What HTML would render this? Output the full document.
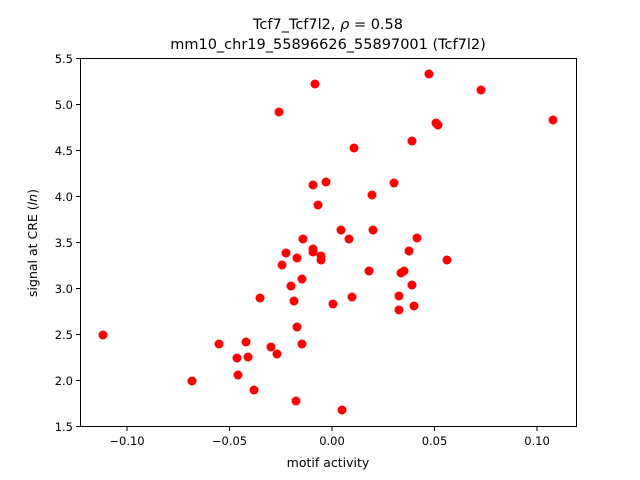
<!DOCTYPE html>
<html><head><meta charset="utf-8"><style>body{margin:0;background:#fff}svg{display:block}text{font-family:"DejaVu Sans","Liberation Sans",sans-serif;fill:#000}</style></head><body>
<svg width="640" height="480" viewBox="0 0 640 480" xmlns="http://www.w3.org/2000/svg">
<rect width="640" height="480" fill="#fff"/>
<g fill="#ff0000">
<circle cx="103" cy="335" r="4.5"/><circle cx="192" cy="381" r="4.5"/><circle cx="219" cy="344" r="4.5"/><circle cx="237" cy="358" r="4.5"/><circle cx="238" cy="375" r="4.5"/><circle cx="246" cy="342" r="4.5"/><circle cx="248" cy="357" r="4.5"/><circle cx="254" cy="390" r="4.5"/><circle cx="260" cy="298" r="4.5"/><circle cx="271" cy="347" r="4.5"/><circle cx="277" cy="354" r="4.5"/><circle cx="279" cy="112" r="4.5"/><circle cx="282" cy="265" r="4.5"/><circle cx="286" cy="253" r="4.5"/><circle cx="291" cy="286" r="4.5"/><circle cx="294" cy="301" r="4.5"/><circle cx="297" cy="327" r="4.5"/><circle cx="297" cy="258" r="4.5"/><circle cx="296" cy="401" r="4.5"/><circle cx="302" cy="279" r="4.5"/><circle cx="302" cy="344" r="4.5"/><circle cx="303" cy="239" r="4.5"/><circle cx="313" cy="249" r="4.5"/><circle cx="313" cy="252" r="4.5"/><circle cx="313" cy="185" r="4.5"/><circle cx="315" cy="84" r="4.5"/><circle cx="318" cy="205" r="4.5"/><circle cx="321" cy="256" r="4.5"/><circle cx="321" cy="260" r="4.5"/><circle cx="326" cy="182" r="4.5"/><circle cx="333" cy="304" r="4.5"/><circle cx="341" cy="230" r="4.5"/><circle cx="342" cy="410" r="4.5"/><circle cx="349" cy="239" r="4.5"/><circle cx="352" cy="297" r="4.5"/><circle cx="354" cy="148" r="4.5"/><circle cx="369" cy="271" r="4.5"/><circle cx="372" cy="195" r="4.5"/><circle cx="373" cy="230" r="4.5"/><circle cx="394" cy="183" r="4.5"/><circle cx="399" cy="296" r="4.5"/><circle cx="399" cy="310" r="4.5"/><circle cx="401" cy="273" r="4.5"/><circle cx="404" cy="271" r="4.5"/><circle cx="409" cy="251" r="4.5"/><circle cx="412" cy="285" r="4.5"/><circle cx="412" cy="141" r="4.5"/><circle cx="414" cy="306" r="4.5"/><circle cx="417" cy="238" r="4.5"/><circle cx="429" cy="74" r="4.5"/><circle cx="436" cy="123" r="4.5"/><circle cx="438" cy="125" r="4.5"/><circle cx="447" cy="260" r="4.5"/><circle cx="481" cy="90" r="4.5"/><circle cx="553" cy="120" r="4.5"/>
</g>
<rect x="80.5" y="58.5" width="496" height="368" fill="none" stroke="#000" stroke-width="1"/>
<g stroke="#000" stroke-width="1">
<line x1="127" y1="427" x2="127" y2="431"/><line x1="229.5" y1="427" x2="229.5" y2="431"/><line x1="332" y1="427" x2="332" y2="431"/><line x1="434.5" y1="427" x2="434.5" y2="431"/><line x1="537" y1="427" x2="537" y2="431"/>
<line x1="76" y1="58.5" x2="80" y2="58.5"/><line x1="76" y1="104.5" x2="80" y2="104.5"/><line x1="76" y1="150.5" x2="80" y2="150.5"/><line x1="76" y1="196.5" x2="80" y2="196.5"/><line x1="76" y1="242.5" x2="80" y2="242.5"/><line x1="76" y1="288.5" x2="80" y2="288.5"/><line x1="76" y1="334.5" x2="80" y2="334.5"/><line x1="76" y1="380.5" x2="80" y2="380.5"/><line x1="76" y1="426.5" x2="80" y2="426.5"/>
</g>
<g font-size="11.5" text-anchor="middle">
<text x="127" y="445">−0.10</text><text x="229.5" y="445">−0.05</text><text x="332" y="445">0.00</text><text x="434.5" y="445">0.05</text><text x="537" y="445">0.10</text>
</g>
<g font-size="11.5" text-anchor="end">
<text x="73" y="63">5.5</text><text x="73" y="109">5.0</text><text x="73" y="155">4.5</text><text x="73" y="201">4.0</text><text x="73" y="247">3.5</text><text x="73" y="293">3.0</text><text x="73" y="339">2.5</text><text x="73" y="385">2.0</text><text x="73" y="431">1.5</text>
</g>
<text x="328" y="467" font-size="12.5" text-anchor="middle">motif activity</text>
<text transform="translate(37,243) rotate(-90)" font-size="12.5" text-anchor="middle">signal at CRE (<tspan font-style="italic">ln</tspan>)</text>
<text x="328" y="29" font-size="14.5" text-anchor="middle">Tcf7_Tcf7l2, <tspan font-style="italic">ρ</tspan> = 0.58</text>
<text x="328" y="49" font-size="14.5" text-anchor="middle">mm10_chr19_55896626_55897001 (Tcf7l2)</text>
</svg>
</body></html>
